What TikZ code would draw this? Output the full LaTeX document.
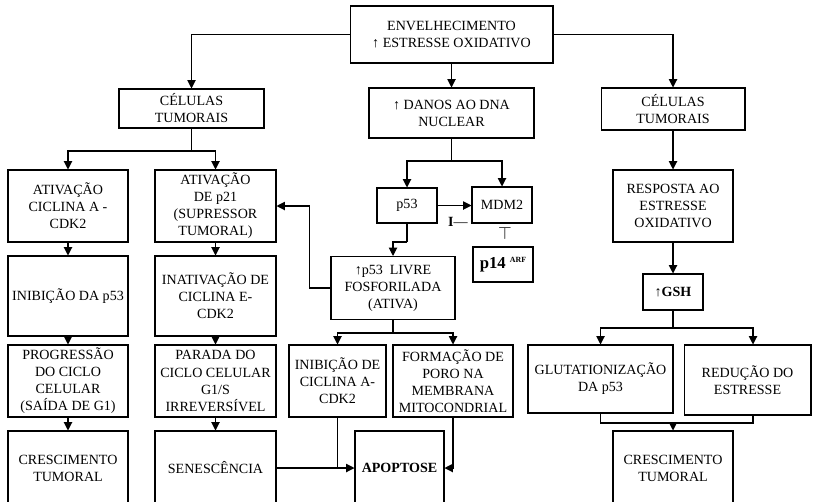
\documentclass[tikz,border=0pt]{standalone}
\usepackage{fontspec}
\setmainfont{Liberation Serif}
\usepackage{tikz}
\usetikzlibrary{calc, arrows.meta}
\tikzstyle{box}=[draw, line width=0.6pt, align=center, inner sep=1pt, font=\fontsize{8}{9.7}\selectfont]
\tikzstyle{flowLine}=[line width=0.6pt]
\tikzstyle{flowArrow}=[-{Triangle[length=4.8pt,width=4.8pt]}, line width=0.6pt]

\begin{document}
\begin{tikzpicture}[x=0.02cm, y=-0.02cm]
      \useasboundingbox (0,0) rectangle (813,501);

      % top
      \node[box, minimum width=4.06cm, minimum height=1.14cm] (env) at (451.5,34.5) {ENVELHECIMENTO\\↑ ESTRESSE OXIDATIVO};
      \node[box, minimum width=2.9cm, minimum height=0.78cm] (celL) at (191.5,108.5) {CÉLULAS\\TUMORAIS};
      \node[box, minimum width=3.3cm, minimum height=1.0cm] (danos) at (451.5,113) {↑ DANOS AO DNA\\NUCLEAR};
      \node[box, minimum width=2.88cm, minimum height=0.84cm] (celR) at (673,109) {CÉLULAS\\TUMORAIS};

      % left columns
      \node[box, minimum width=2.4cm, minimum height=1.44cm] (ativA) at (68,206) {ATIVAÇÃO\\CICLINA A -\\CDK2};
      \node[box, minimum width=2.4cm, minimum height=1.6cm] (inib53) at (68,296) {INIBIÇÃO DA p53};
      \node[box, minimum width=2.4cm, minimum height=1.44cm] (prog) at (68,381) {PROGRESSÃO\\DO CICLO\\CELULAR\\(SAÍDA DE G1)};
      \node[box, minimum width=2.4cm, minimum height=1.48cm] (crescL) at (68,468) {CRESCIMENTO\\TUMORAL};
      \node[box, minimum width=2.42cm, minimum height=1.44cm] (p21) at (215.5,206) {ATIVAÇÃO\\DE p21\\(SUPRESSOR\\TUMORAL)};
      \node[box, minimum width=2.42cm, minimum height=1.6cm] (inatE) at (215.5,296) {INATIVAÇÃO DE\\CICLINA E-\\CDK2};
      \node[box, minimum width=2.42cm, minimum height=1.44cm] (parada) at (215.5,381) {PARADA DO\\CICLO CELULAR\\G1/S\\IRREVERSÍVEL};
      \node[box, minimum width=2.42cm, minimum height=1.48cm] (senes) at (215.5,468) {SENESCÊNCIA};

      % middle
      \node[box, minimum width=1.2cm, minimum height=0.7cm] (p53) at (407,205.5) {p53};
      \node[box, minimum width=1.2cm, minimum height=0.72cm] (mdm2) at (502,205) {MDM2};
      \node[box, minimum width=1.2cm, minimum height=0.7cm, font=\fontsize{9.5}{11}\selectfont\bfseries] (p14) at (503,264.5) {p14 \raisebox{0.7ex}{\fontsize{4.5}{5}\selectfont ARF}};
      \node[font=\fontsize{8}{10}\selectfont, inner sep=0pt] (inh) at (458,222) {\textbf{I}—};
      \node[inner sep=0pt] (blk) at (505,233) {$\top$};
      \node[box, minimum width=2.48cm, minimum height=1.26cm] (livre) at (393,288) {↑p53\ \ LIVRE\\FOSFORILADA\\(ATIVA)};
      \node[box, minimum width=1.94cm, minimum height=1.44cm] (inibA) at (337.5,381) {INIBIÇÃO DE\\CICLINA A-\\CDK2};
      \node[box, minimum width=2.4cm, minimum height=1.44cm] (poro) at (453,381) {FORMAÇÃO DE\\PORO NA\\MEMBRANA\\MITOCONDRIAL};
      \node[box, minimum width=1.78cm, minimum height=1.48cm, font=\fontsize{8}{10.2}\selectfont\bfseries] (apop) at (399.5,468) {APOPTOSE};

      % right
      \node[box, minimum width=2.4cm, minimum height=1.44cm] (resp) at (673,206) {RESPOSTA AO\\ESTRESSE\\OXIDATIVO};
      \node[box, minimum width=1.2cm, minimum height=0.72cm, font=\fontsize{8}{10.2}\selectfont\bfseries] (gsh) at (673,292) {↑GSH};
      \node[box, minimum width=2.9cm, minimum height=1.36cm] (glut) at (600.5,379) {GLUTATIONIZAÇÃO\\DA p53};
      \node[box, minimum width=2.54cm, minimum height=1.4cm] (red) at (747.5,380) {REDUÇÃO DO\\ESTRESSE};
      \node[box, minimum width=2.4cm, minimum height=1.48cm] (crescR) at (673,468) {CRESCIMENTO\\TUMORAL};

      \coordinate (splitL) at (191.5,151);
      \coordinate (splitD) at (451.5,161);
      \coordinate (bend53) at (407,242);
      \coordinate (splitP) at (393,333);
      \coordinate (splitG) at (673,328);
      \coordinate (joinG) at (673,423);
      \coordinate (redTop) at ($(red.north)+(5.5,0)$);
      \coordinate (redBot) at ($(red.south)+(5.5,0)$);

      \draw[flowArrow] (env.west) -| (celL.north);
      \draw[flowArrow] (env.east) -| (celR.north);
      \draw[flowArrow] (env.south) -- (danos.north);

      \draw[flowLine] (celL.south) -- (splitL);
      \draw[flowArrow] (splitL) -| (ativA.north);
      \draw[flowArrow] (splitL) -| (p21.north);

      \foreach \a/\b in {ativA/inib53, inib53/prog, prog/crescL, p21/inatE, inatE/parada, parada/senes, celR/resp, resp/gsh}{
        \draw[flowArrow] (\a.south) -- (\b.north);
      }

      \draw[flowLine] (danos.south) -- (splitD);
      \draw[flowArrow] (splitD) -| (p53.north);
      \draw[flowArrow] (splitD) -| (mdm2.north);
      \draw[flowArrow] (p53.east) -- (p53.east -| mdm2.west);

      \draw[flowLine] (p53.south) -- (bend53);
      \draw[flowArrow] (bend53) -| (livre.north);
      \draw[flowArrow] (livre.west) -- ++(-21,0) |- (p21.east);

      \draw[flowLine] (livre.south) -- (splitP);
      \draw[flowArrow] (splitP) -| (inibA.north);
      \draw[flowArrow] (splitP) -| (poro.north);

      \draw[flowArrow] (senes.east) -- (apop.west);
      \draw[flowLine] (inibA.south) -- (inibA.south |- apop.west);
      \draw[flowArrow] (poro.south) |- (apop.east);

      \draw[flowLine] (gsh.south) -- (splitG);
      \draw[flowArrow] (splitG) -| (glut.north);
      \draw[flowArrow] (splitG) -| (redTop);
      \draw[flowLine] (glut.south) |- (joinG);
      \draw[flowLine] (redBot) |- (joinG);
      \draw[flowArrow] (joinG) -- (crescR.north);
\end{tikzpicture}
\end{document}
